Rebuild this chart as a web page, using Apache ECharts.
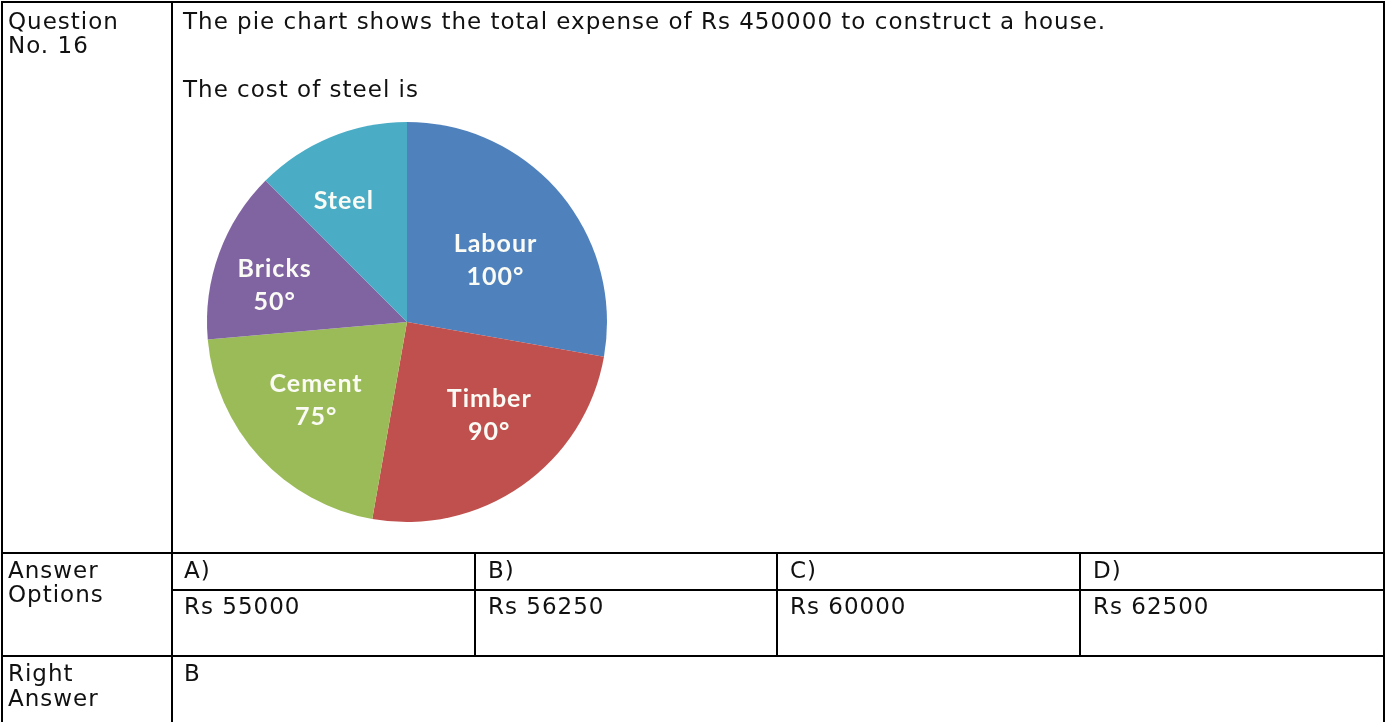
<!DOCTYPE html>
<html>
<head>
<meta charset="utf-8">
<script src="https://cdn.jsdelivr.net/npm/echarts@6/dist/echarts.min.js"></script>
<style>
  html, body { margin: 0; padding: 0; background: #fff; }
  #wrap { position: relative; width: 1388px; height: 722px; overflow: hidden; font-family: "DejaVu Sans", sans-serif; font-size: 23px; line-height: 24px; letter-spacing: 1px; color: #111; }
  #chart { position: absolute; left: 0; top: 0; width: 1388px; height: 722px; }
  .ln { position: absolute; background: #000; }
  .tx { position: absolute; white-space: pre; }
</style>
</head>
<body>
<div id="wrap">
  <div id="chart"></div>
  <!-- borders -->
  <div class="ln" style="left:1px;top:1px;width:1384px;height:2px;"></div>
  <div class="ln" style="left:1px;top:1px;width:2px;height:721px;"></div>
  <div class="ln" style="left:1383px;top:1px;width:2px;height:721px;"></div>
  <div class="ln" style="left:171px;top:1px;width:2px;height:721px;"></div>
  <div class="ln" style="left:1px;top:552px;width:1384px;height:2px;"></div>
  <div class="ln" style="left:171px;top:589px;width:1214px;height:2px;"></div>
  <div class="ln" style="left:1px;top:655px;width:1384px;height:2px;"></div>
  <div class="ln" style="left:474px;top:552px;width:2px;height:104px;"></div>
  <div class="ln" style="left:776px;top:552px;width:2px;height:104px;"></div>
  <div class="ln" style="left:1079px;top:552px;width:2px;height:104px;"></div>
  <!-- texts -->
  <div class="tx" id="q1" style="left:8px;top:9px;"></div>
  <div class="tx" id="q2" style="left:183px;top:9px;"></div>
  <div class="tx" id="q3" style="left:183px;top:77px;"></div>
  <div class="tx" id="a1" style="left:8px;top:558px;"></div>
  <div class="tx" id="r1" style="left:8px;top:661px;line-height:25px;"></div>
  <div class="tx" id="r2" style="left:184px;top:661px;"></div>
  <div id="opts"></div>
</div>
<script>
// ---- data ----
const categories = ['Labour', 'Timber', 'Cement', 'Bricks', 'Steel'];
const degrees = [100, 90, 75, 50, 45];
const degreeLabels = ['100°', '90°', '75°', '50°', ''];
const colors = ['#4F81BD', '#C0504D', '#9BBB59', '#8064A2', '#4BACC6'];
const optionLetters = ['A)', 'B)', 'C)', 'D)'];
const optionValues = ['Rs 55000', 'Rs 56250', 'Rs 60000', 'Rs 62500'];
const questionLabel = 'Question\nNo. 16';
const questionText = 'The pie chart shows the total expense of Rs 450000 to construct a house.';
const questionAsk = 'The cost of steel is';
const optionsLabel = 'Answer\nOptions';
const rightLabel = 'Right\nAnswer';
const rightAnswer = 'B';

// label nudges (px) to follow the hand-placed labels of the original
const labelNudge = [[-8, 19], [10, -10], [2, -7], [-14, 7], [-15, -5]];

// ---- texts ----
document.getElementById('q1').textContent = questionLabel;
document.getElementById('q2').textContent = questionText;
document.getElementById('q3').textContent = questionAsk;
document.getElementById('a1').textContent = optionsLabel;
document.getElementById('r1').textContent = rightLabel;
document.getElementById('r2').textContent = rightAnswer;
const colX = [184, 488, 790, 1093];
const opts = document.getElementById('opts');
optionLetters.forEach((l, i) => {
  const a = document.createElement('div');
  a.className = 'tx'; a.style.left = colX[i] + 'px'; a.style.top = '558px'; a.textContent = l;
  opts.appendChild(a);
  const b = document.createElement('div');
  b.className = 'tx'; b.style.left = colX[i] + 'px'; b.style.top = '594px'; b.textContent = optionValues[i];
  opts.appendChild(b);
});

// ---- chart ----
const chart = echarts.init(document.getElementById('chart'), null, { renderer: 'canvas' });
const pieData = categories.map((c, i) => ({ name: c, value: degrees[i], itemStyle: { color: colors[i] } }));
const labelData = categories.map((c, i) => ({ name: c, value: degrees[i], lbl: degreeLabels[i] }));
chart.setOption({
  animation: false,
  series: [
    {
      type: 'pie',
      center: [407, 322],
      radius: 200,
      startAngle: 90,
      clockwise: true,
      silent: true,
      label: { show: false },
      labelLine: { show: false },
      itemStyle: { borderWidth: 0 },
      data: pieData
    },
    {
      type: 'pie',
      center: [407, 322],
      radius: 246,
      startAngle: 90,
      clockwise: true,
      silent: true,
      itemStyle: { color: 'rgba(0,0,0,0)', borderWidth: 0 },
      labelLine: { show: false },
      label: {
        show: true,
        position: 'inside',
        color: '#fbfbf5',
        fontFamily: 'Lato, sans-serif',
        fontWeight: 'bold',
        fontSize: 25,
        lineHeight: 33,
        formatter: p => p.data.lbl ? p.name + '\n' + p.data.lbl : p.name
      },
      labelLayout: p => ({ dx: labelNudge[p.dataIndex][0], dy: labelNudge[p.dataIndex][1] }),
      data: labelData
    }
  ]
});
</script>
</body>
</html>
